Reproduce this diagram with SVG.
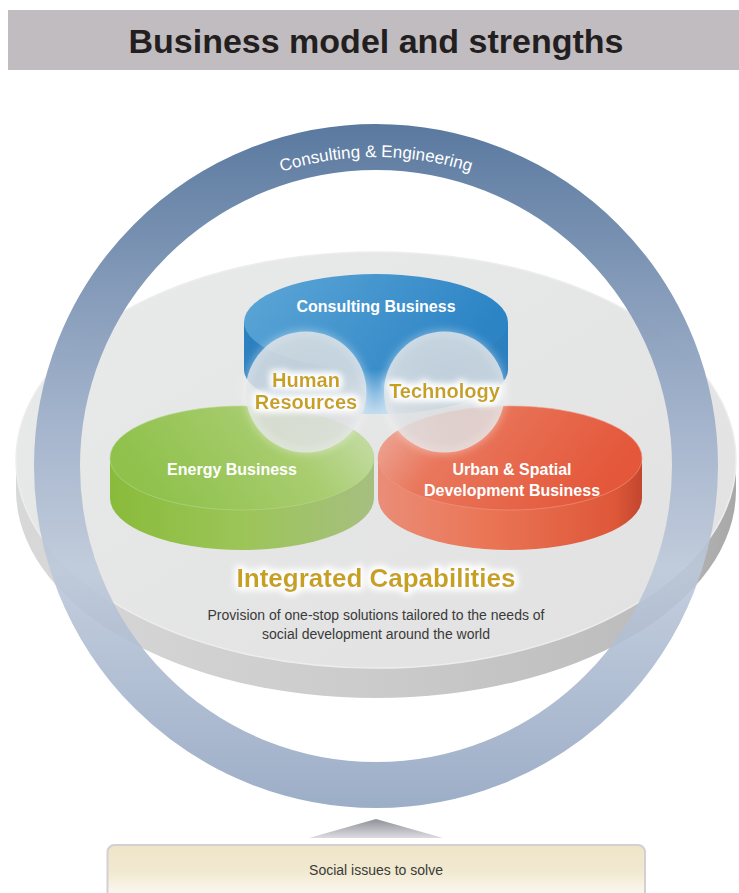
<svg xmlns="http://www.w3.org/2000/svg" width="739" height="893" viewBox="0 0 739 893">
<defs>
<style>
.t{font-family:"Liberation Sans",Arial,Helvetica,sans-serif}
.title{font-size:34px;font-weight:bold;fill:#231f20;text-anchor:middle}
.arc{font-size:17px;fill:#fff}
.biz{font-size:16px;font-weight:bold;fill:#fff;text-anchor:middle}
.gold{font-weight:bold;fill:#c8a11a;text-anchor:middle}
.desc{font-size:14px;fill:#3a3a3a;text-anchor:middle}
.glass{fill:url(#glass)}
.halo{fill:#fff;opacity:.35}
</style>
<linearGradient id="ringG" gradientUnits="userSpaceOnUse" x1="0" y1="124" x2="0" y2="808">
<stop offset="0" stop-color="#5a799f"/>
<stop offset="0.45" stop-color="#a3b3cc" stop-opacity="0.95"/>
<stop offset="0.65" stop-color="#bcc8da" stop-opacity="0.88"/>
<stop offset="1" stop-color="#97a9c4" stop-opacity="0.95"/>
</linearGradient>
<linearGradient id="sideG" x1="0" y1="0" x2="1" y2="0">
<stop offset="0" stop-color="#d8d8d8"/>
<stop offset="0.5" stop-color="#cbcbcb"/>
<stop offset="0.88" stop-color="#bcbcbc"/>
<stop offset="1" stop-color="#a8a8a8"/>
</linearGradient>
<linearGradient id="topG" x1="0" y1="0" x2="1" y2="1">
<stop offset="0" stop-color="#e9eaea"/>
<stop offset="1" stop-color="#e1e1e1"/>
</linearGradient>
<linearGradient id="blueTop" x1="0" y1="0" x2="1" y2="0.3">
<stop offset="0" stop-color="#5ea7d7"/>
<stop offset="1" stop-color="#2c84c5"/>
</linearGradient>
<radialGradient id="blueSide" cx="0.5" cy="1" r="0.6" fx="0.5" fy="1">
<stop offset="0" stop-color="#c6ddef"/>
<stop offset="0.35" stop-color="#8ebfe3"/>
<stop offset="0.8" stop-color="#3b8fcb"/>
<stop offset="1" stop-color="#2d80bf"/>
</radialGradient>
<linearGradient id="greenTop" x1="0" y1="0.3" x2="1" y2="0">
<stop offset="0" stop-color="#8fc14c"/>
<stop offset="0.6" stop-color="#a9cd70"/>
<stop offset="1" stop-color="#cbe0b2"/>
</linearGradient>
<linearGradient id="greenSide" x1="0" y1="0" x2="1" y2="0">
<stop offset="0" stop-color="#89bb3b"/>
<stop offset="0.5" stop-color="#9cc558"/>
<stop offset="1" stop-color="#a6bf80"/>
</linearGradient>
<linearGradient id="redTop" x1="0" y1="0" x2="1" y2="0.3">
<stop offset="0" stop-color="#eeb2a6"/>
<stop offset="0.35" stop-color="#e9775c"/>
<stop offset="1" stop-color="#e4573a"/>
</linearGradient>
<linearGradient id="redSide" x1="0" y1="0" x2="1" y2="0">
<stop offset="0" stop-color="#ea8d78"/>
<stop offset="0.4" stop-color="#ea7656"/>
<stop offset="0.9" stop-color="#de5739"/>
<stop offset="1" stop-color="#c2462e"/>
</linearGradient>
<radialGradient id="glass" cx="0.5" cy="0.5" r="0.5">
<stop offset="0" stop-color="#d6d8da" stop-opacity="0.74"/>
<stop offset="0.85" stop-color="#dcdee0" stop-opacity="0.76"/>
<stop offset="1" stop-color="#e6e8ea" stop-opacity="0.8"/>
</radialGradient>
<linearGradient id="arrowG" x1="0" y1="0" x2="0" y2="1">
<stop offset="0" stop-color="#8f8f99"/>
<stop offset="1" stop-color="#dcdce0"/>
</linearGradient>
<linearGradient id="boxG" x1="0" y1="845" x2="0" y2="893" gradientUnits="userSpaceOnUse">
<stop offset="0" stop-color="#eee5c8"/>
<stop offset="0.55" stop-color="#f1e9d0"/>
<stop offset="1" stop-color="#faf7ee"/>
</linearGradient>
<filter id="soft" x="-30%" y="-30%" width="160%" height="160%">
<feGaussianBlur stdDeviation="4"/>
</filter>
<filter id="glow" x="-20%" y="-60%" width="140%" height="220%">
<feMorphology in="SourceAlpha" operator="dilate" radius="1.5" result="d"/>
<feGaussianBlur in="d" stdDeviation="3.5" result="b"/>
<feFlood flood-color="#ffffff"/>
<feComposite in2="b" operator="in" result="g"/>
<feMerge><feMergeNode in="g"/><feMergeNode in="g"/><feMergeNode in="SourceGraphic"/></feMerge>
</filter>
<path id="arcp" d="M67,466 A309,309 0 0 1 685,466" fill="none"/>
</defs>

<rect width="739" height="893" fill="#ffffff"/>

<g id="title">
<rect x="8" y="10" width="731" height="60" fill="#c1bcc0"/>
<text class="t title" x="376" y="53">Business model and strengths</text>
</g>

<g id="integrated-capabilities">
<path d="M16,460 V490 A360,208 0 0 0 736,490 V460 Z" fill="url(#sideG)"/>
<ellipse cx="376" cy="460" rx="360" ry="208" fill="url(#topG)" stroke="#ededed" stroke-width="1.5"/>
<text class="t gold" x="376" y="587" font-size="26" filter="url(#glow)">Integrated Capabilities</text>
<text class="t desc" x="376" y="620">Provision of one-stop solutions tailored to the needs of</text>
<text class="t desc" x="376" y="639">social development around the world</text>
</g>

<g id="consulting-engineering">
<circle cx="376" cy="466" r="319" fill="none" stroke="url(#ringG)" stroke-width="46"/>
<text class="t arc"><textPath href="#arcp" startOffset="50%" text-anchor="middle">Consulting &amp; Engineering</textPath></text>
</g>

<g id="consulting-business">
<path d="M244,322 V370 A132,44 0 0 0 508,370 V322 Z" fill="url(#blueSide)"/>
<ellipse cx="376" cy="322" rx="132" ry="48" fill="url(#blueTop)"/>
<text class="t biz" x="376" y="312">Consulting Business</text>
</g>

<g id="energy-business">
<path d="M110,458 V498 A132,52 0 0 0 374,498 V458 Z" fill="url(#greenSide)"/>
<ellipse cx="242" cy="458" rx="132" ry="52" fill="url(#greenTop)" stroke="#b9d690" stroke-width="0.6"/>
<text class="t biz" x="232" y="475">Energy Business</text>
</g>

<g id="urban-spatial-business">
<path d="M378,458 V498 A132,52 0 0 0 642,498 V458 Z" fill="url(#redSide)"/>
<ellipse cx="510" cy="458" rx="132" ry="52" fill="url(#redTop)" stroke="#ef9a86" stroke-width="0.6"/>
<text class="t biz" x="512" y="475">Urban &amp; Spatial</text>
<text class="t biz" x="512" y="496">Development Business</text>
</g>

<g id="human-resources">
<circle cx="306" cy="392" r="62" class="halo" filter="url(#soft)"/>
<circle cx="306" cy="392" r="60.5" class="glass"/>
<text class="t gold" x="306" y="387" font-size="20" filter="url(#glow)">Human</text>
<text class="t gold" x="306" y="409" font-size="20" filter="url(#glow)">Resources</text>
</g>

<g id="technology">
<circle cx="444.5" cy="392" r="62" class="halo" filter="url(#soft)"/>
<circle cx="444.5" cy="392" r="60.5" class="glass"/>
<text class="t gold" x="444.5" y="398" font-size="20" filter="url(#glow)">Technology</text>
</g>

<g id="connectors">
<polygon points="309,838 376,819 443,838" fill="url(#arrowG)"/>
</g>

<g id="social-issues">
<rect x="107.5" y="845" width="537.5" height="70" rx="7" fill="url(#boxG)" stroke="#d3cfd3" stroke-width="2"/>
<text class="t desc" x="376" y="875" fill="#333">Social issues to solve</text>
</g>
</svg>
